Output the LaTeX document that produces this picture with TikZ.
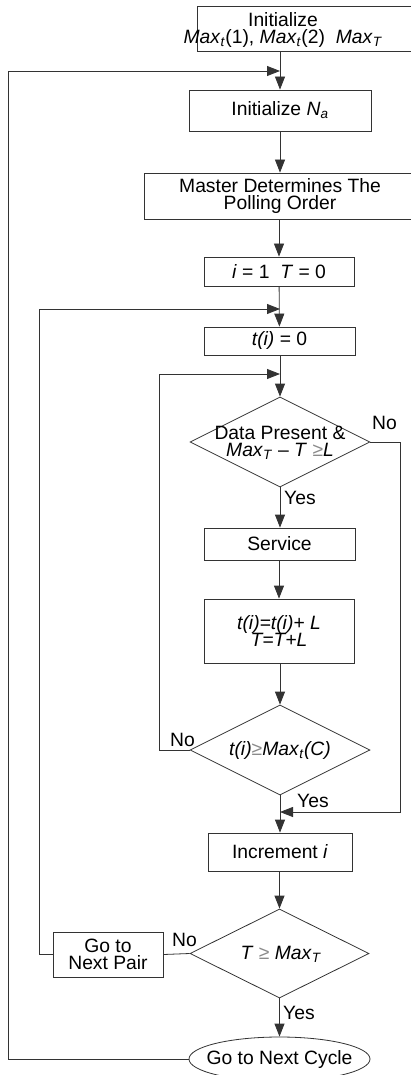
\documentclass[tikz,border=0pt]{standalone}
\usepackage{fontspec}
\setmainfont{Liberation Sans}
\usetikzlibrary{shapes.geometric,arrows.meta}
\definecolor{lc}{HTML}{333333}
\definecolor{gec}{HTML}{8A8A8A}
\newcommand\mx[1]{\textit{Max}\textsubscript{\textit{#1}}}
\newcommand\gee{{\color{gec}≥}}
\begin{document}
\begin{tikzpicture}[x=1pt,y=-1pt,
  every node/.style={font=\fontsize{19.3}{17.5}\selectfont, inner sep=0pt},
  box/.style={draw=lc, line width=0.8pt, rectangle, align=center},
  dia/.style={draw=lc, line width=0.8pt, diamond, minimum width=180, minimum height=90},
  ell/.style={draw=lc, line width=0.8pt, ellipse, minimum width=181, minimum height=44},
  lbl/.style={anchor=west},
  line/.style={draw=lc, line width=0.8pt},
  arr/.style={line, -{Triangle[length=13pt,width=10pt]}}]
\useasboundingbox (0,0) rectangle (411,1075);
\clip (0,0) rectangle (411,1075);

% nodes
\node[box, minimum width=219, minimum height=45] (init1) at (306.5,28.5) {};
\node[align=center] (init1t) at (283,30) {Initialize\\\mx{t}(1), \mx{t}(2) \ \mx{T}};
\node[box, minimum width=182, minimum height=41] (init2) at (280,110.5) {Initialize \textit{N}\textsubscript{\textit{a}}};
\node[box, minimum width=272, minimum height=46] (master) at (280,196) {Master Determines The\\Polling Order};
\node[box, minimum width=150, minimum height=29] (i1) at (279,271.5) {\textit{i} = 1 \ \textit{T} = 0};
\node[box, minimum width=151, minimum height=28] (t0) at (279.5,341) {\textit{t(i)} = 0};
\node[dia] (d1) at (280,442) {};
\node[align=center] (d1t) at (280,443) {Data Present \&\\\mx{T} – \textit{T} \gee\textit{L}};
\node[box, minimum width=151, minimum height=32] (serv) at (279.5,544) {Service};
\node[box, minimum width=150, minimum height=64] (upd) at (279,631) {\textit{t(i)=t(i)+ L}\\\textit{T=T+L}};
\node[dia] (d2) at (280,750) {};
\node (d2t) at (280,750) {\textit{t(i)}\gee\mx{t}\textit{(C)}};
\node[box, minimum width=144, minimum height=38] (inc) at (280,852) {Increment \textit{i}};
\node[dia, minimum width=179, minimum height=89] (d3) at (279.5,953.5) {};
\node (d3t) at (281,954) {\textit{T} \gee\ \mx{T}};
\node[box, minimum width=110, minimum height=45] (gonp) at (108,954.5) {Go to\\Next Pair};
\node[ell] (cyc) at (279.5,1059) {};
\node (cyct) at (279.5,1059) {Go to Next Cycle};

% junction coordinates
\coordinate (j1) at (280,71);
\coordinate (j2) at (280,309);
\coordinate (j3) at (280,374);
\coordinate (j4) at (280,812);

% labels
\node[lbl] (no1) at (372,423) {No};
\node[lbl] (yes1) at (284,498) {Yes};
\node[lbl] (no2) at (170,740) {No};
\node[lbl] (yes2) at (297,801) {Yes};
\node[lbl] (no3) at (172,940) {No};
\node[lbl] (yes3) at (283,1013) {Yes};

% main flow
\draw[arr] (init2.north |- init1.south) -- (init2.north);
\draw[arr] (init2) -- (master);
\draw[arr] (master.south -| i1.north) -- (i1.north);
\draw[arr] (i1) -- (t0);
\draw[arr] (t0.south -| d1.north) -- (d1.north);
\draw[arr] (d1.south) -- (d1.south |- serv.north);
\draw[arr] (serv.south -| upd.north) -- (upd.north);
\draw[arr] (upd.south -| d2.north) -- (d2.north);
\draw[arr] (d2.south) -- (d2.south |- inc.north);
\draw[arr] (inc.south -| d3.north) -- (d3.north);
\draw[arr] (d3.south) -- (d3.south |- cyc.north);
\draw[line] (d3.west) -- (gonp.east);

% loops
\draw[arr] (cyc.west) -- (8,1059) -- (8,71) -- (j1);
\draw[arr] (gonp.west) -- (39,954.5) -- (39,309) -- (j2);
\draw[arr] (d2.west) -- (159,750) -- (159,374) -- (j3);
\draw[arr] (d1.east) -- (400,442) -- (400,812) -- (j4);
\end{tikzpicture}
\end{document}
